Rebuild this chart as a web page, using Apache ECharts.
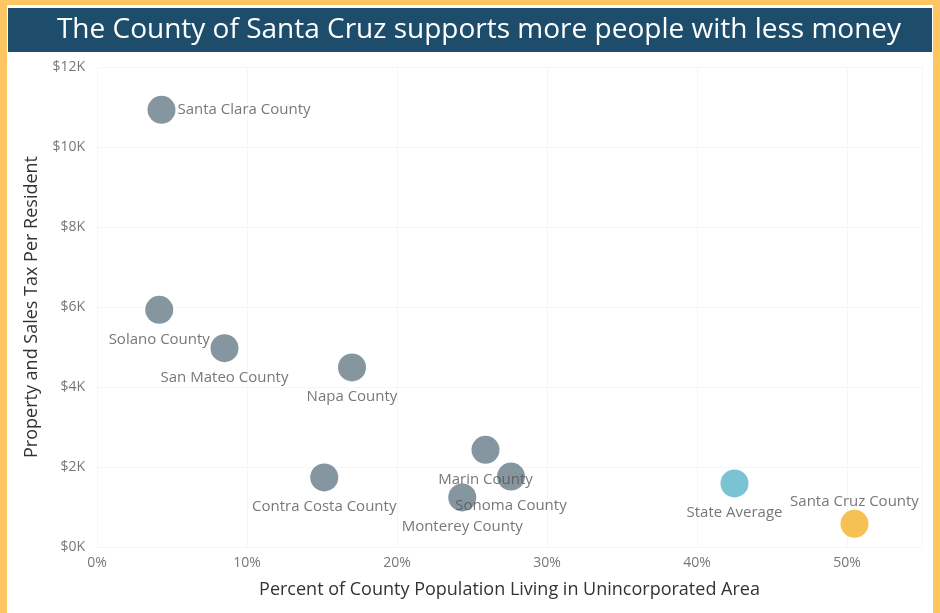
<!DOCTYPE html>
<html>
<head>
<meta charset="utf-8">
<script src="https://cdn.jsdelivr.net/npm/echarts@6/dist/echarts.min.js"></script>
<style>
html,body{margin:0;padding:0;background:#fdc662;width:940px;height:613px;overflow:hidden;}
#main{position:absolute;left:7px;top:5px;width:926px;height:608px;background:#ffffff;}
</style>
</head>
<body>
<div id="main"></div>
<script>
// Data (percent unincorporated, $ per resident)
const names = ["Santa Clara County","Solano County","San Mateo County","Napa County","Contra Costa County","Marin County","Sonoma County","Monterey County","State Average","Santa Cruz County"];
const pctUnincorporated = [4.3, 4.15, 8.5, 17.0, 15.15, 25.9, 27.6, 24.35, 42.5, 50.5];
const taxPerResident = [10930, 5930, 4970, 4490, 1740, 2430, 1760, 1240, 1590, 580];
const groups = ["county","county","county","county","county","county","county","county","state","santacruz"];
const labelPos = ["right","bottom","bottom","bottom","bottom","bottom","bottom","bottom","bottom","top"];
const xTicks = [0,10,20,30,40,50];
const yTicks = [0,2000,4000,6000,8000,10000,12000];

const colors = {county:"#687c88", state:"#5ab3c7", santacruz:"#f3b12a"};
const FONT = "Open Sans";

const data = names.map((n,i)=>({
  name:n,
  value:[pctUnincorporated[i], taxPerResident[i]],
  itemStyle:{color:colors[groups[i]]},
  label:{position:labelPos[i], distance: labelPos[i]==="right"?2:(labelPos[i]==="top"?1:8)}
}));

const chart = echarts.init(document.getElementById('main'));
chart.setOption({
  animation:false,
  textStyle:{fontFamily:FONT},
  graphic:[
    {type:'rect', left:1, top:3, shape:{width:924, height:44}, style:{fill:'#1e4d6b'}, z:10},
    {type:'text', x:472, y:25, style:{text:'The County of Santa Cruz supports more people with less money', fill:'#ffffff', font:'28px "Open Sans"', textAlign:'center', textVerticalAlign:'middle'}, z:11}
  ],
  grid:{left:90, top:62, right:11, bottom:66, containLabel:false},
  xAxis:{
    type:'value', min:0, max:55, interval:10,
    name:'Percent of County Population Living in Unincorporated Area',
    nameLocation:'middle', nameGap:34,
    nameTextStyle:{fontSize:18, color:'#333', fontFamily:FONT},
    axisLine:{show:false}, axisTick:{show:false},
    axisLabel:{color:'#777', fontSize:14, margin:9, formatter:v=>xTicks.includes(v)?v+'%':''},
    splitLine:{show:true, lineStyle:{color:'#f6f6f6'}}
  },
  yAxis:{
    type:'value', min:0, max:12000, interval:2000,
    name:'Property and Sales Tax Per Resident',
    nameLocation:'middle', nameGap:56,
    nameTextStyle:{fontSize:18, color:'#333', fontFamily:FONT},
    axisLine:{show:false}, axisTick:{show:false},
    axisLabel:{color:'#777', fontSize:14, margin:12, formatter:v=>yTicks.includes(v)?'$'+(v/1000)+'K':''},
    splitLine:{show:true, lineStyle:{color:'#f6f6f6'}}
  },
  series:[{
    type:'scatter',
    symbolSize:28,
    data:data,
    label:{show:true, formatter:p=>p.name, color:'#555', fontSize:15, fontFamily:FONT},
    labelLayout:{hideOverlap:false}
  }]
});
</script>
</body>
</html>
